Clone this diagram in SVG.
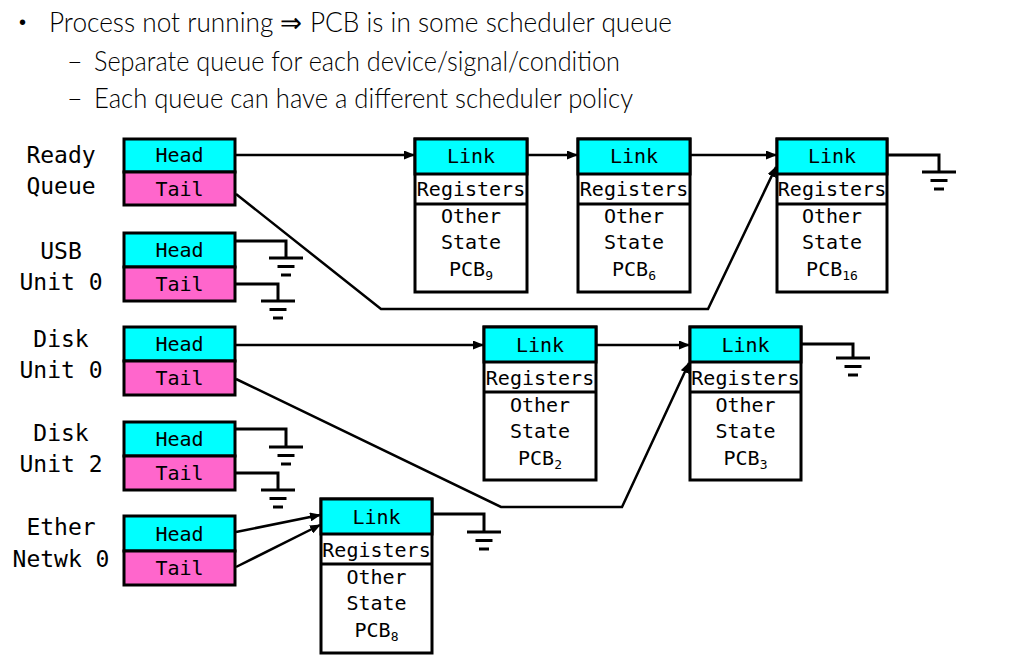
<svg xmlns="http://www.w3.org/2000/svg" xmlns:xlink="http://www.w3.org/1999/xlink" width="1036" height="669" viewBox="0 0 1036 669">
<style>
.bul{font-family:Lato,"Liberation Sans",sans-serif;font-weight:300;font-size:27px;fill:#000}
.dot{font-family:"Liberation Sans",sans-serif;font-size:20px;fill:#000}
.lbl{font-family:"DejaVu Sans Mono","Liberation Mono",monospace;font-size:23px;fill:#000;text-anchor:middle}
.bt{font-family:"DejaVu Sans Mono","Liberation Mono",monospace;font-size:20px;fill:#000;text-anchor:middle}
.sub{font-size:13px}
.head{fill:#00ffff;stroke:#000;stroke-width:3}
.tail{fill:#ff66cc;stroke:#000;stroke-width:3}
.wb{fill:#fff;stroke:#000;stroke-width:3}
.ln{fill:none;stroke:#000;stroke-width:3}
.ar{fill:none;stroke:#000;stroke-width:2.5;marker-end:url(#arr)}
</style>
<defs>
<marker id="arr" markerUnits="userSpaceOnUse" markerWidth="11" markerHeight="9" refX="10" refY="4.5" orient="auto">
<path d="M0,0 L11,4.5 L0,9 z" fill="#000"/>
</marker>
<g id="gnd" stroke="#000" stroke-width="3">
<line x1="-17" y1="0" x2="17" y2="0"/>
<line x1="-8.5" y1="8.5" x2="8.5" y2="8.5"/>
<line x1="-5" y1="17" x2="5" y2="17"/>
</g>
</defs>
<rect width="1036" height="669" fill="#fff"/>

<g id="bullets">
<text class="dot" x="19" y="29">•</text>
<text class="bul" x="49" y="32" textLength="623" lengthAdjust="spacingAndGlyphs">Process not running ⇒ PCB is in some scheduler queue</text>
<text class="bul" x="67" y="71">–</text>
<text class="bul" x="94" y="71" textLength="526" lengthAdjust="spacingAndGlyphs">Separate queue for each device/signal/condition</text>
<text class="bul" x="67" y="108">–</text>
<text class="bul" x="94" y="108" textLength="539" lengthAdjust="spacingAndGlyphs">Each queue can have a different scheduler policy</text>
</g>

<g id="connectors">
<!-- Ready queue -->
<line class="ar" x1="236" y1="155" x2="414" y2="155"/>
<line class="ar" x1="527" y1="155" x2="577" y2="155"/>
<line class="ar" x1="690" y1="155" x2="776" y2="155"/>
<polyline class="ar" points="236,194 381,309 708,309 776,167"/>
<polyline class="ln" points="887,155 939,155 939,172"/>
<use xlink:href="#gnd" x="939" y="172"/>
<!-- USB -->
<polyline class="ln" points="236,241 286,241 286,258"/>
<use xlink:href="#gnd" x="286" y="258"/>
<polyline class="ln" points="236,284 278,284 278,301"/>
<use xlink:href="#gnd" x="278" y="301"/>
<!-- Disk 0 -->
<line class="ar" x1="236" y1="345" x2="483" y2="345"/>
<line class="ar" x1="596" y1="345" x2="689" y2="345"/>
<polyline class="ar" points="236,379 501,507 622,507 689,363"/>
<polyline class="ln" points="801,344 853,344 853,358"/>
<use xlink:href="#gnd" x="853" y="358"/>
<!-- Disk 2 -->
<polyline class="ln" points="236,429 286,429 286,447"/>
<use xlink:href="#gnd" x="286" y="447"/>
<polyline class="ln" points="236,473 278,473 278,490"/>
<use xlink:href="#gnd" x="278" y="490"/>
<!-- Ether -->
<line class="ar" x1="236" y1="532" x2="320" y2="515"/>
<line class="ar" x1="236" y1="567" x2="320" y2="525"/>
<polyline class="ln" points="432,514 484,514 484,532"/>
<use xlink:href="#gnd" x="484" y="532"/>
</g>

<g id="q-ready">
<text class="lbl" x="61" y="163">Ready</text>
<text class="lbl" x="61" y="194">Queue</text>
<rect class="head" x="124" y="139" width="111" height="33"/>
<rect class="tail" x="124" y="172" width="111" height="33"/>
<text class="bt" x="179.5" y="162">Head</text>
<text class="bt" x="179.5" y="196">Tail</text>
</g>
<g id="q-usb">
<text class="lbl" x="61" y="259">USB</text>
<text class="lbl" x="61" y="290">Unit 0</text>
<rect class="head" x="124" y="233" width="111" height="34"/>
<rect class="tail" x="124" y="267" width="111" height="34"/>
<text class="bt" x="179.5" y="257">Head</text>
<text class="bt" x="179.5" y="291">Tail</text>
</g>
<g id="q-disk0">
<text class="lbl" x="61" y="347">Disk</text>
<text class="lbl" x="61" y="378">Unit 0</text>
<rect class="head" x="124" y="327" width="111" height="34"/>
<rect class="tail" x="124" y="361" width="111" height="34"/>
<text class="bt" x="179.5" y="351">Head</text>
<text class="bt" x="179.5" y="385">Tail</text>
</g>
<g id="q-disk2">
<text class="lbl" x="61" y="441">Disk</text>
<text class="lbl" x="61" y="472">Unit 2</text>
<rect class="head" x="124" y="422" width="111" height="34"/>
<rect class="tail" x="124" y="456" width="111" height="34"/>
<text class="bt" x="179.5" y="446">Head</text>
<text class="bt" x="179.5" y="480">Tail</text>
</g>
<g id="q-ether">
<text class="lbl" x="61" y="535">Ether</text>
<text class="lbl" x="61" y="567">Netwk 0</text>
<rect class="head" x="124" y="516" width="111" height="35"/>
<rect class="tail" x="124" y="551" width="111" height="34"/>
<text class="bt" x="179.5" y="541">Head</text>
<text class="bt" x="179.5" y="575">Tail</text>
</g>

<g id="pcb9">
<rect class="wb" x="415" y="139" width="112" height="153"/>
<rect class="head" x="415" y="139" width="112" height="35"/>
<line class="ln" x1="415" y1="204" x2="527" y2="204"/>
<text class="bt" x="471" y="163">Link</text>
<text class="bt" x="471" y="196">Registers</text>
<text class="bt" x="471" y="223">Other</text>
<text class="bt" x="471" y="249">State</text>
<text class="bt" x="471" y="276">PCB<tspan class="sub" dy="4">9</tspan></text>
</g>
<g id="pcb6">
<rect class="wb" x="578" y="139" width="112" height="153"/>
<rect class="head" x="578" y="139" width="112" height="35"/>
<line class="ln" x1="578" y1="204" x2="690" y2="204"/>
<text class="bt" x="634" y="163">Link</text>
<text class="bt" x="634" y="196">Registers</text>
<text class="bt" x="634" y="223">Other</text>
<text class="bt" x="634" y="249">State</text>
<text class="bt" x="634" y="276">PCB<tspan class="sub" dy="4">6</tspan></text>
</g>
<g id="pcb16">
<rect class="wb" x="777" y="139" width="110" height="153"/>
<rect class="head" x="777" y="139" width="110" height="35"/>
<line class="ln" x1="777" y1="204" x2="887" y2="204"/>
<text class="bt" x="832" y="163">Link</text>
<text class="bt" x="832" y="196">Registers</text>
<text class="bt" x="832" y="223">Other</text>
<text class="bt" x="832" y="249">State</text>
<text class="bt" x="832" y="276">PCB<tspan class="sub" dy="4">16</tspan></text>
</g>
<g id="pcb2">
<rect class="wb" x="484" y="327" width="112" height="153"/>
<rect class="head" x="484" y="327" width="112" height="35"/>
<line class="ln" x1="484" y1="392" x2="596" y2="392"/>
<text class="bt" x="540" y="352">Link</text>
<text class="bt" x="540" y="385">Registers</text>
<text class="bt" x="540" y="412">Other</text>
<text class="bt" x="540" y="438">State</text>
<text class="bt" x="540" y="465">PCB<tspan class="sub" dy="4">2</tspan></text>
</g>
<g id="pcb3">
<rect class="wb" x="690" y="327" width="111" height="153"/>
<rect class="head" x="690" y="327" width="111" height="35"/>
<line class="ln" x1="690" y1="392" x2="801" y2="392"/>
<text class="bt" x="745.5" y="352">Link</text>
<text class="bt" x="745.5" y="385">Registers</text>
<text class="bt" x="745.5" y="412">Other</text>
<text class="bt" x="745.5" y="438">State</text>
<text class="bt" x="745.5" y="465">PCB<tspan class="sub" dy="4">3</tspan></text>
</g>
<g id="pcb8">
<rect class="wb" x="321" y="499" width="111" height="154"/>
<rect class="head" x="321" y="499" width="111" height="35"/>
<line class="ln" x1="321" y1="564" x2="432" y2="564"/>
<text class="bt" x="376.5" y="524">Link</text>
<text class="bt" x="376.5" y="557">Registers</text>
<text class="bt" x="376.5" y="584">Other</text>
<text class="bt" x="376.5" y="610">State</text>
<text class="bt" x="376.5" y="637">PCB<tspan class="sub" dy="4">8</tspan></text>
</g>
</svg>
